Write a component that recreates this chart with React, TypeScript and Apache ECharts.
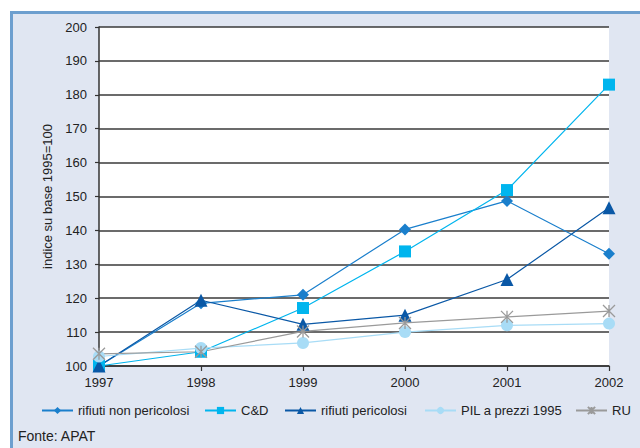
import React, { useEffect, useRef } from "react";
import * as echarts from "echarts";

const years = ["1997", "1998", "1999", "2000", "2001", "2002"];
const nonPericolosi = [100, 118.5, 121, 140.3, 148.7, 133.1];
const cd = [100, 104.2, 117.1, 133.8, 151.9, 183];
const pericolosi = [100, 119.4, 112.3, 115, 125.5, 146.7];
const pil = [102.8, 105.3, 106.8, 110, 112, 112.5];
const ru = [103.6, 104.2, 110.2, 112.7, 114.5, 116.2];
const seriesNames = ["rifiuti non pericolosi", "C&D", "rifiuti pericolosi", "PIL a prezzi 1995", "RU"];
const yTicks = { min: 100, max: 200, interval: 10 };

const FONT = "'Liberation Sans', Arial, sans-serif";
const asterisk = "path://M0,0L10,10M10,0L0,10M5,0L5,10";
const legendLefts = [41, 204, 284, 424, 575];

export default function App() {
  const ref = useRef<HTMLDivElement>(null);
  useEffect(() => {
    if (!ref.current) return;
    const chart = echarts.init(ref.current, null, { renderer: "svg" });
    const mk = (name: string, data: number[], color: string, symbol: string, size: number) => ({
      name,
      type: "line",
      data,
      symbol,
      symbolSize: size,
      color,
      lineStyle: { color, width: 1.2 },
      itemStyle: { color },
    });
    chart.setOption({
      animation: false,
      backgroundColor: "transparent",
      textStyle: { fontFamily: FONT },
      graphic: [
        {
          type: "rect",
          shape: { x: 10, y: 11, width: 640, height: 440 },
          style: { fill: "#e0e6f2" },
          z: -10,
          silent: true,
        },
        { type: "rect", shape: { x: 10, y: 11, width: 640, height: 3 }, style: { fill: "#6d9fcf" }, z: -9 },
        { type: "rect", shape: { x: 10, y: 11, width: 3, height: 440 }, style: { fill: "#6d9fcf" }, z: -9 },
        { type: "rect", shape: { x: 99, y: 27, width: 510, height: 339 }, style: { fill: "#ffffff" }, z: -8 },
        {
          type: "text",
          left: 18,
          top: 429,
          style: { text: "Fonte: APAT", font: `14px ${FONT}`, fill: "#222" },
        },
      ],
      grid: { left: 99, right: 31, top: 27, bottom: 82 },
      legend: seriesNames.map((n, i) => ({
        left: legendLefts[i],
        top: 404,
        itemWidth: 31,
        itemHeight: 9,
        padding: 0,
        textStyle: { fontSize: 13, color: "#222", fontFamily: FONT },
        data: [n],
      })),
      xAxis: {
        type: "category",
        data: years,
        boundaryGap: false,
        axisLine: { lineStyle: { color: "#333", width: 1.5 } },
        axisTick: { show: true, length: 5, lineStyle: { color: "#333", width: 1.2 } },
        axisLabel: { fontSize: 13, color: "#222", margin: 10, fontFamily: FONT },
        splitLine: { show: false },
      },
      yAxis: {
        type: "value",
        min: yTicks.min,
        max: yTicks.max,
        interval: yTicks.interval,
        name: "indice su base 1995=100",
        nameLocation: "middle",
        nameGap: 42,
        nameTextStyle: { fontSize: 13, color: "#222", fontFamily: FONT },
        axisLine: { show: true, lineStyle: { color: "#333", width: 1.5 } },
        axisTick: { show: true, length: 4, lineStyle: { color: "#333", width: 1.2 } },
        axisLabel: { fontSize: 13, color: "#222", margin: 12, fontFamily: FONT },
        splitLine: { show: true, lineStyle: { color: "#3a3a3a", width: 1.5 } },
      },
      series: [
        mk(seriesNames[0], nonPericolosi, "#1a7fcc", "diamond", 12),
        mk(seriesNames[1], cd, "#00b5ee", "rect", 12),
        mk(seriesNames[2], pericolosi, "#0a58a6", "triangle", 13),
        mk(seriesNames[3], pil, "#a8dcf6", "circle", 12),
        {
          ...mk(seriesNames[4], ru, "#9a9a9a", asterisk, 12),
          itemStyle: { color: "#9a9a9a", borderColor: "#9a9a9a", borderWidth: 1.3 },
        },
      ],
    });
    return () => chart.dispose();
  }, []);
  return <div ref={ref} style={{ width: 640, height: 448, position: "absolute", left: 0, top: 0 }} />;
}
